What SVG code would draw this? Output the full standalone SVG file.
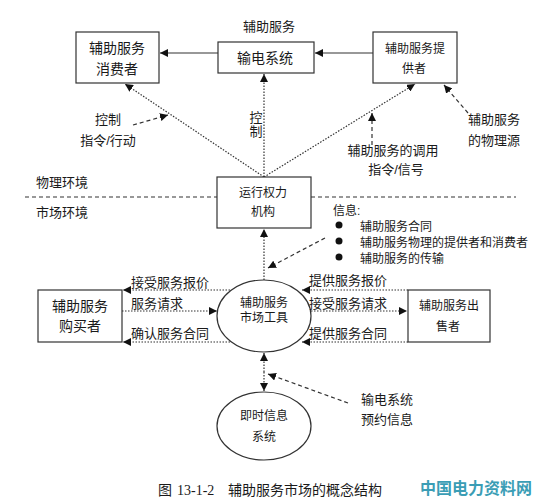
<svg xmlns="http://www.w3.org/2000/svg" width="536" height="498" viewBox="0 0 536 498">
<style>
text{font-family:"Liberation Sans","Noto Sans CJK SC",sans-serif;fill:#1a1a1a}
.b{fill:#fff;stroke:#333;stroke-width:1.2}
.t14{font-size:14px}
.t13{font-size:13px}
.t12{font-size:12px}
.m{text-anchor:middle}
.solid{stroke:#333;stroke-width:1.2;fill:none}
.dot{stroke:#333;stroke-width:1.2;fill:none;stroke-dasharray:1.5 1.5}
.dash{stroke:#333;stroke-width:1.2;fill:none;stroke-dasharray:4 3}
</style>
<defs>
<marker id="ah" viewBox="0 0 10 10" refX="10" refY="5" markerWidth="8" markerHeight="8" markerUnits="userSpaceOnUse" orient="auto">
<path d="M0,0 L10,5 L0,10 z" fill="#111"/>
</marker>
</defs>
<rect width="536" height="498" fill="#fff"/>

<g id="connectors">
<line class="solid" x1="218" y1="53" x2="160" y2="53" marker-end="url(#ah)"/>
<line class="solid" x1="373" y1="53" x2="315" y2="53" marker-end="url(#ah)"/>
<line class="dot" x1="264" y1="177" x2="125" y2="84" marker-end="url(#ah)"/>
<line class="dot" x1="264" y1="177" x2="264" y2="74" marker-end="url(#ah)"/>
<line class="dot" x1="264" y1="177" x2="415" y2="84" marker-end="url(#ah)"/>
<line class="dash" x1="133" y1="125" x2="168" y2="115" marker-end="url(#ah)"/>
<line class="dash" x1="372" y1="145" x2="372" y2="113" marker-end="url(#ah)"/>
<line class="dash" x1="468" y1="113" x2="444" y2="85" marker-end="url(#ah)"/>
<line class="dash" x1="25" y1="197" x2="217" y2="197"/>
<line class="dash" x1="311" y1="197" x2="516" y2="197"/>
<line class="dot" x1="264" y1="280" x2="264" y2="229" marker-end="url(#ah)"/>
<line class="dash" x1="325" y1="238" x2="268" y2="268" marker-end="url(#ah)"/>
<line class="dot" x1="230" y1="290" x2="123" y2="290" marker-end="url(#ah)"/>
<line class="dot" x1="122" y1="311" x2="217" y2="311" marker-end="url(#ah)"/>
<line class="dot" x1="230" y1="342" x2="123" y2="342" marker-end="url(#ah)"/>
<line class="dot" x1="408" y1="290" x2="302" y2="290" marker-end="url(#ah)"/>
<line class="dot" x1="311" y1="311" x2="407" y2="311" marker-end="url(#ah)"/>
<line class="dot" x1="408" y1="342" x2="302" y2="342" marker-end="url(#ah)"/>
<line class="dot" x1="264" y1="372" x2="264" y2="353" marker-end="url(#ah)"/>
<line class="dot" x1="264" y1="372" x2="264" y2="391" marker-end="url(#ah)"/>
<line class="dash" x1="348" y1="403" x2="268" y2="374" marker-end="url(#ah)"/>
</g>

<g id="consumer">
<rect class="b" x="76" y="32" width="83" height="51"/>
<text class="t14 m" x="117" y="53">辅助服务</text>
<text class="t14 m" x="117" y="74">消费者</text>
</g>
<g id="transmission">
<rect class="b" x="218" y="42" width="96" height="31"/>
<text class="t14 m" x="265" y="63">输电系统</text>
</g>
<g id="provider">
<rect class="b" x="373" y="32" width="84" height="51"/>
<text class="t12 m" x="415" y="53">辅助服务提</text>
<text class="t12 m" x="414" y="73">供者</text>
</g>
<g id="operator">
<rect class="b" x="217" y="177" width="94" height="51"/>
<text class="t12 m" x="263" y="197">运行权力</text>
<text class="t12 m" x="263" y="216">机构</text>
</g>
<g id="market-tool">
<ellipse class="b" cx="264" cy="316" rx="47" ry="36"/>
<text class="t12 m" x="264" y="307">辅助服务</text>
<text class="t12 m" x="264" y="322">市场工具</text>
</g>
<g id="buyer">
<rect class="b" x="38" y="290" width="84" height="52"/>
<text class="t14 m" x="80" y="311">辅助服务</text>
<text class="t14 m" x="80" y="331">购买者</text>
</g>
<g id="seller">
<rect class="b" x="408" y="290" width="82" height="52"/>
<text class="t12 m" x="449" y="310">辅助服务出</text>
<text class="t12 m" x="448" y="331">售者</text>
</g>
<g id="realtime-info">
<ellipse class="b" cx="264" cy="426" rx="47" ry="34"/>
<text class="t12 m" x="264" y="420">即时信息</text>
<text class="t12 m" x="264" y="441">系统</text>
</g>

<g id="labels">
<text class="t13" x="243" y="31">辅助服务</text>
<text class="t13 m" x="108" y="124">控制</text>
<text class="t13 m" x="108" y="145">指令/行动</text>
<text class="t13 m" x="256" y="122">控</text>
<text class="t13 m" x="256" y="136">制</text>
<text class="t13 m" x="393" y="155">辅助服务的调用</text>
<text class="t13 m" x="396" y="174">指令/信号</text>
<text class="t13" x="468" y="124">辅助服务</text>
<text class="t13" x="468" y="145">的物理源</text>
<text class="t13" x="36" y="187">物理环境</text>
<text class="t13" x="36" y="217">市场环境</text>
<text class="t12" x="333" y="215">信息:</text>
<circle cx="339" cy="225" r="3.5" fill="#111"/>
<circle cx="339" cy="241" r="3.5" fill="#111"/>
<circle cx="339" cy="257" r="3.5" fill="#111"/>
<text class="t12" x="360" y="231">辅助服务合同</text>
<text class="t12" x="360" y="247">辅助服务物理的提供者和消费者</text>
<text class="t12" x="360" y="263">辅助服务的传输</text>
<text class="t13" x="131" y="287">接受服务报价</text>
<text class="t13" x="131" y="308">服务请求</text>
<text class="t13" x="131" y="338">确认服务合同</text>
<text class="t13" x="309" y="285">提供服务报价</text>
<text class="t13" x="309" y="308">接受服务请求</text>
<text class="t13" x="309" y="338">提供服务合同</text>
<text class="t13" x="361" y="404">输电系统</text>
<text class="t13" x="361" y="424">预约信息</text>
<text class="t14" x="158" y="495">图</text>
<text x="177" y="495" style="font-family:'Liberation Serif',serif;font-size:14px">13-1-2</text>
<text class="t14" x="228" y="495">辅助服务市场的概念结构</text>
<text x="420" y="494" style="font-size:16px;font-weight:bold;fill:#3a9db5">中国电力资料网</text>
</g>
</svg>
